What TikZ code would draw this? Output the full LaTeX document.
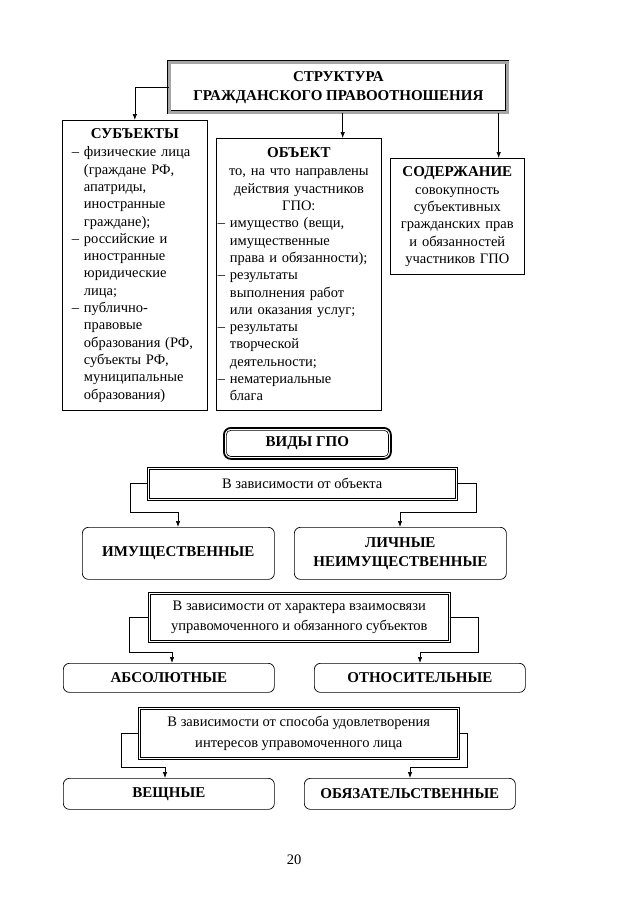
\documentclass[tikz,border=0pt]{standalone}
\usepackage{fontspec}
\setmainfont{Liberation Serif}
\usetikzlibrary{arrows.meta}
\newcommand\bodyf{\fontsize{14.5}{17.3}\selectfont}
\newcommand\critf{\fontsize{14.5}{20.5}\selectfont}
\newcommand\hdf{\fontsize{15}{19}\selectfont\bfseries}
\newcommand\IND{\hphantom{–\ }}
\newlength\boxw
\newcommand\LL[1]{\makebox[\boxw][l]{#1}}
\begin{document}
\begin{tikzpicture}[x=1pt,y=-1pt,
  plainbox/.style={draw, line width=0.7pt, inner sep=0pt, anchor=north west, font=\bodyf, align=center},
  topbox/.style={draw, line width=0.7pt, double=black!35, double distance=2.4pt, inner sep=0pt, anchor=north west, font=\hdf, align=center},
  critbox/.style={draw, line width=0.6pt, double=white, double distance=1.6pt, inner sep=0pt, anchor=north west, font=\critf, align=center},
  rbox/.style={draw, line width=0.7pt, rounded corners=6pt, inner sep=0pt, anchor=north west, font=\hdf, align=center},
  conn/.style={line width=0.7pt, -{Latex[length=6pt,width=4.5pt]}}
]
\useasboundingbox (0,0) rectangle (638,903);

% top
\node[topbox, minimum width=338pt, minimum height=50pt] (top) at (169,62)
  {СТРУКТУРА\\ГРАЖДАНСКОГО ПРАВООТНОШЕНИЯ};

% subjects
\node[plainbox, minimum width=145pt, minimum height=290pt, text width=126pt] (subj) at (62,120)
  {\setlength\boxw{126pt}{\hdf СУБЪЕКТЫ}\\[1pt]
   \LL{– физические лица}\\
   \LL{\IND(граждане РФ,}\\
   \LL{\IND апатриды,}\\
   \LL{\IND иностранные}\\
   \LL{\IND граждане);}\\
   \LL{– российские и}\\
   \LL{\IND иностранные}\\
   \LL{\IND юридические}\\
   \LL{\IND лица;}\\
   \LL{– публично-}\\
   \LL{\IND правовые}\\
   \LL{\IND образования (РФ,}\\
   \LL{\IND субъекты РФ,}\\
   \LL{\IND муниципальные}\\
   \LL{\IND образования)}};

% object
\node[plainbox, minimum width=165pt, minimum height=272pt, text width=162pt] (obj) at (216,138)
  {\setlength\boxw{162pt}{\hdf ОБЪЕКТ}\\[1pt]
   то, на что направлены\\
   действия участников\\
   ГПО:\\
   \LL{– имущество (вещи,}\\
   \LL{\IND имущественные}\\
   \LL{\IND права и обязанности);}\\
   \LL{– результаты}\\
   \LL{\IND выполнения работ}\\
   \LL{\IND или оказания услуг;}\\
   \LL{– результаты}\\
   \LL{\IND творческой}\\
   \LL{\IND деятельности;}\\
   \LL{– нематериальные}\\
   \LL{\IND блага}};

% content
\node[plainbox, minimum width=134pt, minimum height=116pt, text width=132pt] (cont) at (390,158)
  {{\hdf СОДЕРЖАНИЕ}\\[1pt]
   совокупность\\
   субъективных\\
   гражданских прав\\
   и обязанностей\\
   участников ГПО};

\coordinate (objin) at ([xshift=-39pt]obj.north east);
\coordinate (contin) at ([xshift=-26pt]cont.north east);
\draw[conn] (top.west) -| (subj.north);
\draw[conn] (objin |- top.south) -- (objin);
\draw[conn] (contin |- top.south) -- (contin);

% vidy
\node[rbox, line width=1.8pt, rounded corners=7pt, minimum width=167pt, minimum height=31pt] (vidy) at (223,427) {ВИДЫ ГПО};
\draw[line width=0.6pt, rounded corners=4.5pt] ([shift={(3.3pt,-3.3pt)}]vidy.north west) rectangle ([shift={(-3.3pt,3.3pt)}]vidy.south east);

% criterion 1
\node[critbox, minimum width=308pt, minimum height=31pt] (crit1) at (148,468) {В зависимости от объекта};
\node[rbox, minimum width=192pt, minimum height=52pt] (imush) at (82,527) {ИМУЩЕСТВЕННЫЕ};
\node[rbox, minimum width=212pt, minimum height=52pt] (lich) at (294,527) {ЛИЧНЫЕ\\НЕИМУЩЕСТВЕННЫЕ};
\coordinate (t1) at ([xshift=96pt]imush.north west);
\coordinate (t2) at ([xshift=106pt]lich.north west);
\draw[conn] (crit1.west) -- ++(-18pt,0) |- ([yshift=15pt]t1) -- (t1);
\draw[conn] (crit1.east) -- ++(20pt,0) |- ([yshift=15pt]t2) -- (t2);

% criterion 2
\node[critbox, minimum width=300pt, minimum height=48pt] (crit2) at (149,593)
  {В зависимости от характера взаимосвязи\\управомоченного и обязанного субъектов};
\node[rbox, minimum width=211pt, minimum height=29pt] (abs) at (63,663) {АБСОЛЮТНЫЕ};
\node[rbox, minimum width=211pt, minimum height=29pt] (rel) at (314,663) {ОТНОСИТЕЛЬНЫЕ};
\coordinate (t3) at ([xshift=109pt]abs.north west);
\coordinate (t4) at ([xshift=106pt]rel.north west);
\draw[conn] (crit2.west) -- ++(-20pt,0) |- ([yshift=11pt]t3) -- (t3);
\draw[conn] (crit2.east) -- ++(29pt,0) |- ([yshift=11pt]t4) -- (t4);

% criterion 3
\node[critbox, minimum width=319pt, minimum height=50pt] (crit3) at (139,708)
  {В зависимости от способа удовлетворения\\интересов управомоченного лица};
\node[rbox, minimum width=211pt, minimum height=31pt] (vesh) at (63,778) {ВЕЩНЫЕ};
\node[rbox, minimum width=211pt, minimum height=31pt] (obyaz) at (304,778) {ОБЯЗАТЕЛЬСТВЕННЫЕ};
\coordinate (t5) at ([xshift=102pt]vesh.north west);
\coordinate (t6) at ([xshift=106pt]obyaz.north west);
\draw[conn] (crit3.west) -- ++(-18pt,0) |- ([yshift=11pt]t5) -- (t5);
\draw[conn] (crit3.east) -- ++(9pt,0) |- ([yshift=11pt]t6) -- (t6);

% page number
\node[font=\bodyf] (pg) at (294,860) {20};
\end{tikzpicture}
\end{document}
